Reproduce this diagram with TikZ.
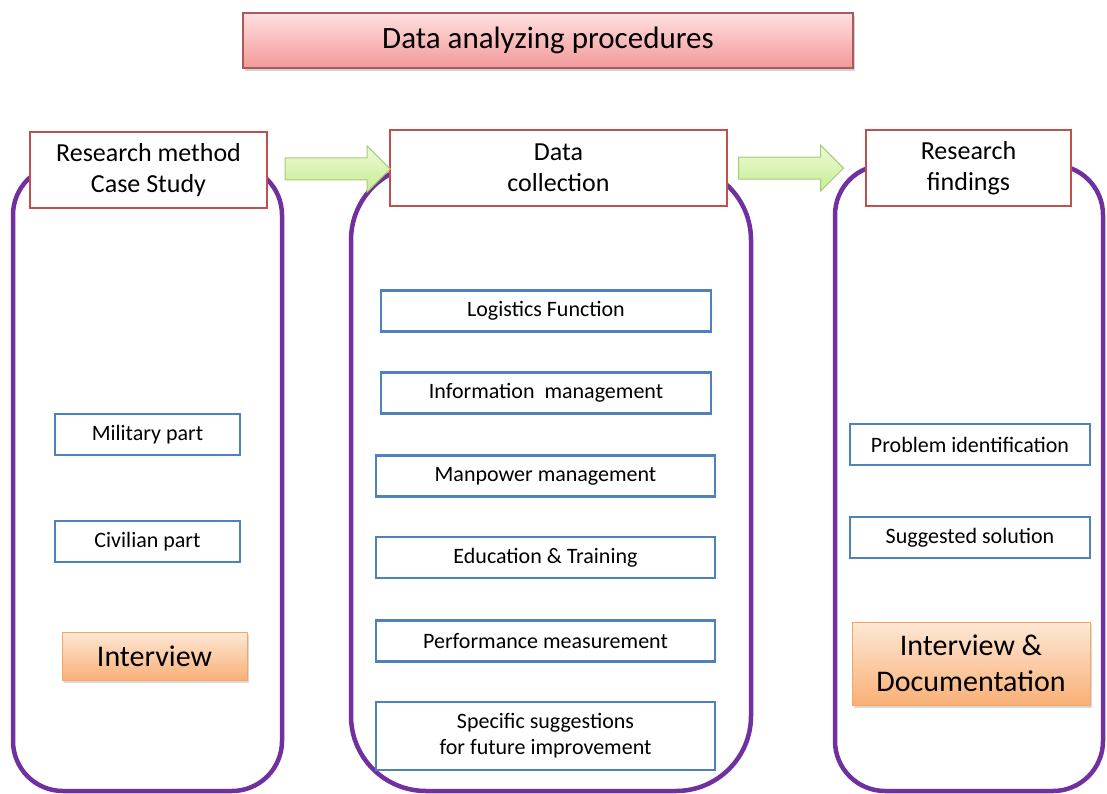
\documentclass[tikz,border=0pt]{standalone}
\usepackage{fontspec}
\setmainfont{Carlito}
\usepackage{tikz}
\usetikzlibrary{shapes.arrows,shadows}

\definecolor{headred}{RGB}{192,80,77}
\definecolor{itemblue}{RGB}{79,129,189}
\definecolor{framepurple}{RGB}{112,48,160}
\definecolor{titletop}{RGB}{255,224,224}
\definecolor{titlebot}{RGB}{242,152,152}
\definecolor{titleline}{RGB}{170,90,90}
\definecolor{peachtop}{RGB}{253,232,214}
\definecolor{peachbot}{RGB}{249,176,118}
\definecolor{peachline}{RGB}{245,165,100}
\definecolor{greentop}{RGB}{238,250,215}
\definecolor{greenbot}{RGB}{198,236,148}
\definecolor{greenline}{RGB}{165,205,115}

\tikzset{
  loopframe/.style={draw=framepurple, line width=4.5pt},
  header/.style={draw=headred, line width=2pt, fill=white, minimum height=76pt,
    font=\fontsize{26}{31}\selectfont},
  item/.style={draw=itemblue, line width=2.5pt, fill=white, minimum height=41pt,
    font=\fontsize{22}{26}\selectfont},
  peach/.style={draw=peachline, line width=1pt, top color=peachtop, bottom color=peachbot,
    drop shadow={opacity=0.3, shadow xshift=2pt, shadow yshift=-3pt},
    font=\fontsize{30}{36}\selectfont},
  flowarrow/.style={single arrow, draw=greenline, line width=1pt, top color=greentop,
    bottom color=greenbot, minimum height=105pt, minimum width=45pt,
    single arrow head extend=12pt, inner xsep=0pt, inner ysep=10.5pt}
}

\begin{document}
\begin{tikzpicture}[x=1pt, y=-1pt, every node/.style={align=center}]
    \useasboundingbox (0,0) rectangle (1107,794);

    % Title
    \node[draw=titleline, line width=1.2pt, top color=titletop, bottom color=titlebot,
      drop shadow={opacity=0.35, shadow xshift=2pt, shadow yshift=-3pt},
      minimum width=610pt, minimum height=55pt, font=\fontsize{31}{37}\selectfont]
      (title) at (548,40.5) {Data analyzing procedures};

    % Three rounded frames
    \draw[loopframe, rounded corners=50pt] (13,165) rectangle (282,791);
    \draw[loopframe, rounded corners=75pt] (351,165) rectangle (751,791);
    \draw[loopframe, rounded corners=50pt] (835,165) rectangle (1103,791);

    % Headers
    \node[header, minimum width=237pt] (method) at (148.5,170) {Research method\\Case Study};
    \node[header, minimum width=337pt] (collect) at (558.5,168) {Data\\collection};
    \node[header, minimum width=205pt] (findings) at (968.5,168.5) {Research\\findings};

    % Arrows between headers
    \path (method.east) -- (collect.west) node[flowarrow, pos=.53] (arrowA) {};
    \path (collect.east) -- (findings.west) node[flowarrow, pos=.42] (arrowB) {};

    % Research method
    \node[item, minimum width=185pt] (military) at (147.5,434.5) {Military part};
    \node[item, minimum width=185pt] (civilian) at (147.5,541.5) {Civilian part};
    \node[peach, minimum width=185pt, minimum height=48pt] (interview) at (154.5,656) {Interview};

    % Data collection
    \node[item, minimum width=330pt] (logistics) at (546,311) {Logistics Function};
    \node[item, minimum width=330pt] (information) at (546,393) {Information\ \ management};
    \node[item, minimum width=339pt] (manpower) at (545.5,476) {Manpower management};
    \node[item, minimum width=339pt] (education) at (545.5,557.5) {Education \& Training};
    \node[item, minimum width=339pt] (performance) at (545.5,641) {Performance measurement};
    \node[item, minimum width=339pt, minimum height=68pt] (suggestions) at (545.5,736)
      {Specific suggestions\\for future improvement};

    % Research findings
    \node[item, minimum width=240pt] (problem) at (970,444.5) {Problem identification};
    \node[item, minimum width=240pt] (solution) at (970,537.5) {Suggested solution};
    \node[peach, minimum width=238pt, minimum height=83pt] (interdoc) at (971,663.5)
      {Interview \&\\Documentation};
\end{tikzpicture}
\end{document}
